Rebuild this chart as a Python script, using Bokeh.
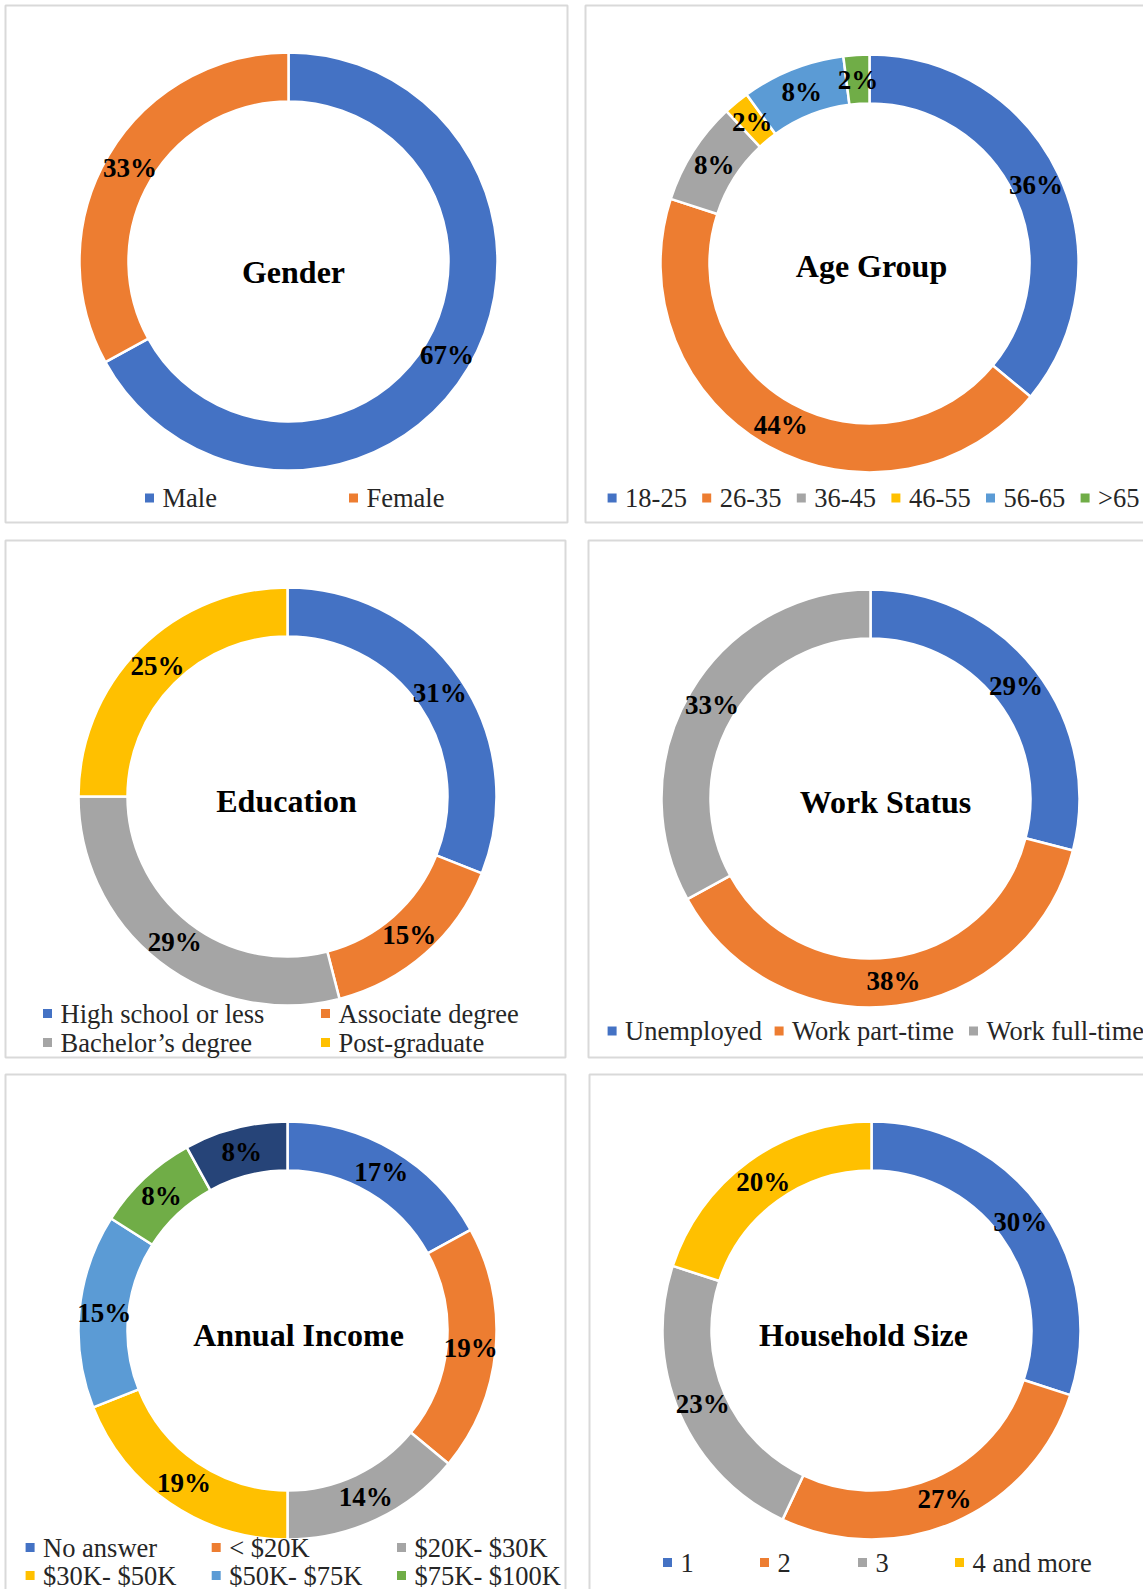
import math
from bokeh.plotting import figure
from bokeh.models import ColumnDataSource, Range1d
from bokeh.embed import file_html
from bokeh.resources import INLINE
from bokeh.core.properties import value

# ---------------- data ----------------
gender_labels = ["Male", "Female"]
gender_values = [67, 33]

age_labels = ["18-25", "26-35", "36-45", "46-55", "56-65", ">65"]
age_values = [36, 44, 8, 2, 8, 2]

edu_labels = ["High school or less", "Associate degree", "Bachelor\u2019s degree", "Post-graduate"]
edu_values = [31, 15, 29, 25]

work_labels = ["Unemployed", "Work part-time", "Work full-time"]
work_values = [29, 38, 33]

income_labels = ["No answer", "< $20K", "$20K- $30K", "$30K- $50K", "$50K- $75K", "$75K- $100K", "> $100K"]
income_values = [17, 19, 14, 19, 15, 8, 8]

household_labels = ["1", "2", "3", "4 and more"]
household_values = [30, 27, 23, 20]

palette = ["#4472C4", "#ED7D31", "#A5A5A5", "#FFC000", "#5B9BD5", "#70AD47", "#264478"]

# ---------------- layout ----------------
W, H = 1143, 1589
OFF = 0
R_OUT, R_IN = 209, 160
R_LAB = 184
SERIF = "Liberation Serif"


def X(x):
    return x - OFF


def Y(y):
    return H - (y - OFF)


panels = [
    dict(title="Gender", labels=gender_labels, values=gender_values, c=(288, 261), t=(293, 271),
         legend=[[(149, 497.5), (353, 497.5)]]),
    dict(title="Age Group", labels=age_labels, values=age_values, c=(869, 263), t=(871, 265),
         legend=[[(611.6 + 94.6 * i, 497.5) for i in range(6)]]),
    dict(title="Education", labels=edu_labels, values=edu_values, c=(287, 796), t=(286, 800),
         legend=[[(47, 1013), (325, 1013)], [(47, 1042), (325, 1042)]]),
    dict(title="Work Status", labels=work_labels, values=work_values, c=(870, 798), t=(885, 801),
         legend=[[(611.6, 1030.5), (778.6, 1030.5), (973, 1030.5)]]),
    dict(title="Annual Income", labels=income_labels, values=income_values, c=(287, 1330), t=(298, 1334),
         legend=[[(29.6, 1547), (215.7, 1547), (401, 1547)], [(29.6, 1575), (215.7, 1575), (401, 1575)]]),
    dict(title="Household Size", labels=household_labels, values=household_values, c=(871, 1330), t=(863, 1334),
         legend=[[(667, 1562), (764, 1562), (862, 1562), (959, 1562)]]),
]

# panel frames (left, top, right, bottom) in page pixels
frames = [
    (5, 5, 567, 522), (585, 5, 1160, 522),
    (5, 540, 565, 1057), (588, 540, 1160, 1057),
    (5, 1074, 565, 1600), (589, 1074, 1160, 1600),
]

p = figure(width=W, height=H, x_range=Range1d(0, W), y_range=Range1d(0, H),
           output_backend="svg", toolbar_location=None, min_border=0,
           x_axis_location=None, y_axis_location=None)
p.grid.visible = False
p.outline_line_color = None
p.background_fill_color = "white"
p.border_fill_color = "white"

# frames
fl, ft, fr, fb = zip(*frames)
p.quad(left=[X(v) for v in fl], right=[X(v) for v in fr],
       top=[Y(v) for v in ft], bottom=[Y(v) for v in fb],
       fill_color=None, line_color="#D9D9D9", line_width=2)

for pan in panels:
    vals = pan["values"]
    total = float(sum(vals))
    cx, cy = X(pan["c"][0]), Y(pan["c"][1])
    starts, ends, cols, lx, ly, ltxt = [], [], [], [], [], []
    cum = 0.0
    for i, v in enumerate(vals):
        th0 = 2 * math.pi * cum / total
        th1 = 2 * math.pi * (cum + v) / total
        starts.append(math.pi / 2 - th1)
        ends.append(math.pi / 2 - th0)
        cols.append(palette[i])
        mid = (th0 + th1) / 2
        lx.append(cx + R_LAB * math.sin(mid))
        ly.append(cy + R_LAB * math.cos(mid))
        ltxt.append(f"{round(v / total * 100)}%")
        cum += v
    src = ColumnDataSource(dict(x=[cx] * len(vals), y=[cy] * len(vals), start=starts, end=ends,
                                color=cols, name=pan["labels"]))
    p.annular_wedge(x="x", y="y", inner_radius=R_IN, outer_radius=R_OUT,
                    start_angle="start", end_angle="end", direction="anticlock",
                    fill_color="color", line_color="white", line_width=2.5, source=src)
    p.text(x=lx, y=ly, text=ltxt, text_align="center", text_baseline="middle",
           text_font=value(SERIF), text_font_style="bold", text_font_size="27px",
           text_color="black")
    p.text(x=[X(pan["t"][0])], y=[Y(pan["t"][1])], text=[pan["title"]],
           text_align="center", text_baseline="middle", text_font=value(SERIF),
           text_font_style="bold", text_font_size="32px", text_color="black")
    # legend
    k = 0
    mx, my, tx, ty, tt, mc = [], [], [], [], [], []
    for row in pan["legend"]:
        for (px, py) in row:
            mx.append(X(px)); my.append(Y(py))
            tx.append(X(px) + 13); ty.append(Y(py))
            tt.append(pan["labels"][k]); mc.append(palette[k])
            k += 1
    p.scatter(x=mx, y=my, marker="square", size=9, fill_color=mc, line_color=None)
    p.text(x=tx, y=ty, text=tt, text_align="left", text_baseline="middle",
           text_font=value(SERIF), text_font_size="26.5px", text_color="#262626")

open("out.html", "w").write(file_html(p, INLINE))
